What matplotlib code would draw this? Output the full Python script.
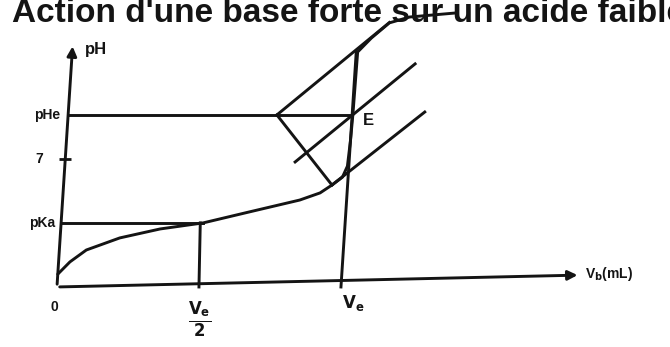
import numpy as np
import matplotlib.pyplot as plt
from matplotlib.transforms import Affine2D

# courbe pH = f(Vb), dosage acide faible par base forte (schema)
v_curve = [0, 0.8, 1.9, 4.2, 7.0, 10.0, 13.2, 16.7, 18.1, 18.9, 19.6, 19.9, 20.0, 20.05, 20.1, 21.0, 22.2, 23.6, 26.8]
ph_curve = [0.7, 1.37, 2.02, 2.68, 3.17, 3.5, 4.1, 4.75, 5.14, 5.57, 6.0, 6.6, 8.0, 9.4, 12.84, 13.6, 14.43, 14.75, 14.97]

ve = 20.0
pka = 3.5
phe = 9.4
ph7 = 7.0

# methode des tangentes
v_tan_up = [14.7, 22.2]
ph_tan_up = [9.4, 14.45]
v_tan_mid = [16.2, 24.2]
ph_tan_mid = [6.83, 12.19]
v_tan_low = [18.9, 25.1]
ph_tan_low = [5.57, 9.56]
v_perp = [14.7, 18.9]
ph_perp = [9.4, 5.57]

v_axis_end = 36.8
ph_axis_end = 13.3

ink = '#141414'
plt.rcParams['font.family'] = ['Liberation Sans', 'DejaVu Sans']

fig = plt.figure(figsize=(6.7, 3.47), dpi=100)
ax = fig.add_axes([0, 0, 1, 1])
ax.set_xlim(-4.01, 43.17)
ax.set_ylim(-3.28, 15.68)
ax.axis('off')

# le dessin scanne est un peu penche : cisaillement autour de l'origine
ox, oy = ax.transData.transform((0, 0))
tr = ax.transData + Affine2D().translate(-ox, -oy).skew(np.arctan(0.065), 0).translate(ox, oy)

lw = 2.1
ax.annotate('', xy=(0, ph_axis_end), xytext=(0, 0), xycoords=tr, textcoords=tr,
            arrowprops=dict(arrowstyle='-|>', color=ink, lw=lw, mutation_scale=14))
ax.annotate('', xy=(v_axis_end, 0.65), xytext=(0, 0), xycoords=tr, textcoords=tr,
            arrowprops=dict(arrowstyle='-|>', color=ink, lw=lw, mutation_scale=14))

ax.plot(v_curve, ph_curve, color=ink, lw=lw, transform=tr, solid_capstyle='round')
ax.plot([0, ve / 2], [pka, pka], color=ink, lw=lw, transform=tr)
ax.plot([ve / 2, ve / 2 - 0.2], [0, pka], color=ink, lw=lw, transform=tr)
ax.plot([0, ve], [phe, phe], color=ink, lw=lw, transform=tr)
ax.plot([ve, ve], [0, 12.85], color=ink, lw=lw, transform=tr)
ax.plot(v_tan_up, ph_tan_up, color=ink, lw=lw, transform=tr)
ax.plot(v_tan_mid, ph_tan_mid, color=ink, lw=lw, transform=tr)
ax.plot(v_tan_low, ph_tan_low, color=ink, lw=lw, transform=tr)
ax.plot(v_perp, ph_perp, color=ink, lw=lw, transform=tr)
ax.plot([0], [ph7], marker='_', ms=9, mew=2, color=ink, transform=tr)

lab = dict(color=ink, fontweight='bold', fontsize=10, transform=tr)
ax.text(0.9, 13.0, 'pH', ha='left', va='center', color=ink, fontweight='bold', fontsize=12, transform=tr)
ax.text(-0.55, phe, 'pHe', ha='right', va='center', **lab)
ax.text(-1.8, ph7, '7', ha='center', va='center', **lab)
ax.text(-0.45, pka, 'pKa', ha='right', va='center', **lab)
ax.text(-0.1, -1.1, '0', ha='center', va='center', **lab)
ax.text(21.2, 9.1, 'E', ha='center', va='center', color=ink, fontweight='bold', fontsize=12, transform=tr)
ax.text(20.9, -0.85, r'$\mathbf{V_e}$', ha='center', va='center', color=ink, fontsize=12, transform=tr)
ax.text(10.2, -1.8, r'$\mathbf{\frac{V_e}{2}}$', ha='center', va='center', color=ink, fontsize=17, transform=tr)
ax.text(37.1, 0.7, r'V$_\mathbf{b}$(mL)', ha='left', va='center', **lab)

fig.text(12 / 670, 1 - 22 / 347, "Action d'une base forte sur un acide faible",
         fontsize=24, fontweight='bold', color=ink, va='baseline', ha='left')

fig.savefig('out.png', dpi=100)
print('out.png')
